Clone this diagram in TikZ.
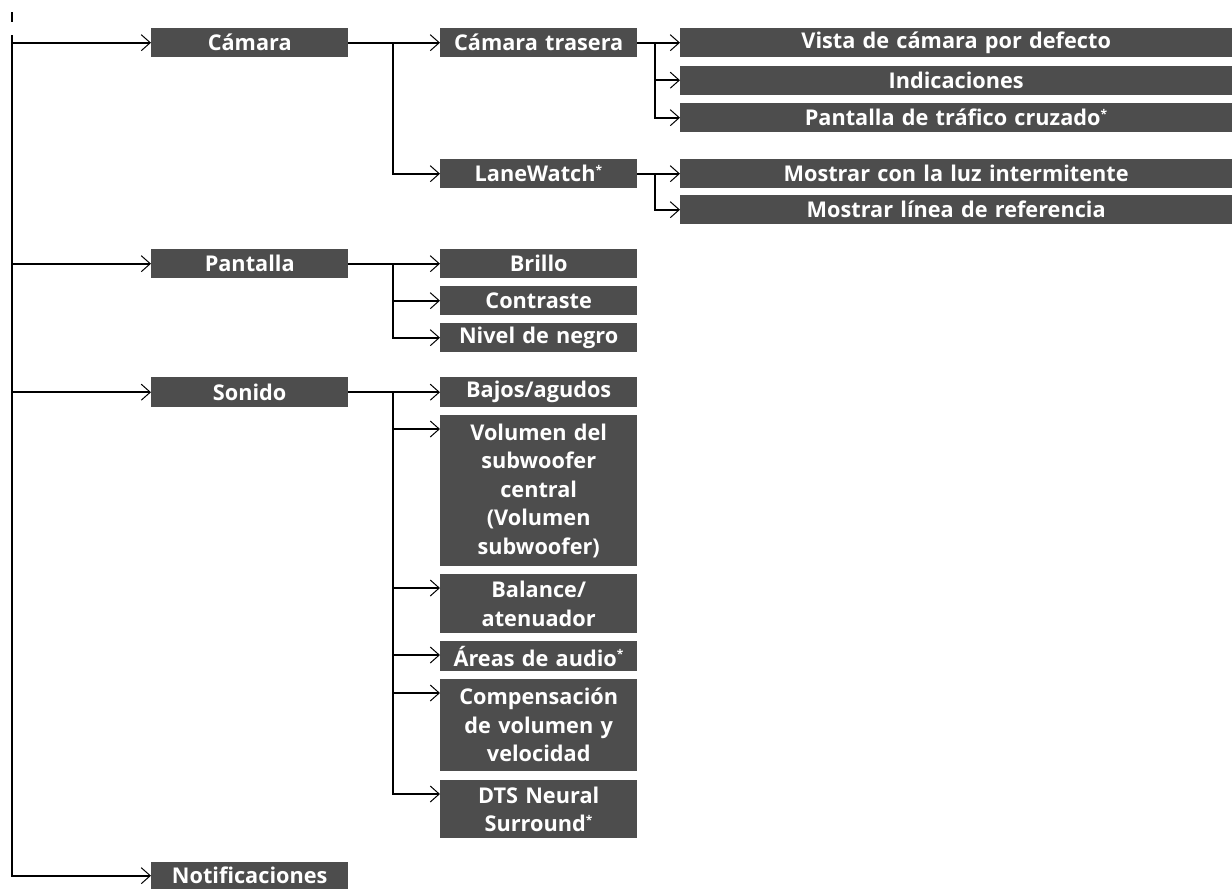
\documentclass[tikz,border=0pt]{standalone}
\usepackage{fontspec}
\setmainfont{Open Sans}
\usetikzlibrary{arrows.meta,calc}
\definecolor{cajagris}{RGB}{77,77,77}
\newcommand{\nota}{\textsuperscript{\fontsize{12}{12}\selectfont *}}
\begin{document}
\begin{tikzpicture}[x=1pt, y=-1pt,
    caja/.style={fill=cajagris, text=white, font=\fontsize{21.7}{28.5}\selectfont\bfseries,
      inner sep=0pt, anchor=north west, align=center, minimum height=29pt},
    c1/.style={caja, text width=197pt},
    c2/.style={caja, text width=197pt},
    c3/.style={caja, text width=552pt},
    link/.style={line width=2pt, -{Straight Barb[length=9pt,width=16pt,line width=1pt]}}]
    \useasboundingbox (0,0) rectangle (1232,889);
    % Nivel 1
    \node[c1] (camara) at (151,28) {Cámara};
    \node[c1] (pantalla) at (151,249) {Pantalla};
    \node[c1, minimum height=30pt] (sonido) at (151,377) {Sonido};
    \node[c1, minimum height=27pt] (notif) at (151,862) {Notificaciones};
    % Nivel 2
    \node[c2] (trasera) at (440,28) {Cámara trasera};
    \node[c2] (lane) at (440,159) {LaneWatch\nota};
    \node[c2] (brillo) at (440,249) {Brillo};
    \node[c2] (contraste) at (440,286) {Contraste};
    \node[c2] (negro) at (440,323) {Nivel de negro};
    \node[c2, minimum height=30pt] (bajos) at (440,377) {Bajos/agudos};
    \node[c2, minimum height=151pt] (volumen) at (440,415) {Volumen del\\subwoofer\\central\\(Volumen\\subwoofer)};
    \node[c2, minimum height=59pt] (balance) at (440,574) {Balance/\\atenuador};
    \node[c2, minimum height=30pt] (areas) at (440,641) {Áreas de audio\nota};
    \node[c2, minimum height=92pt] (comp) at (440,679) {Compensación\\de volumen y\\velocidad};
    \node[c2, minimum height=58pt] (dts) at (440,780) {DTS Neural\\Surround\nota};
    % Nivel 3
    \node[c3] (vista) at (680,28) {Vista de cámara por defecto};
    \node[c3] (indic) at (680,65.5) {Indicaciones};
    \node[c3] (cruzado) at (680,103) {Pantalla de tráfico cruzado\nota};
    \node[c3] (intermit) at (680,159) {Mostrar con la luz intermitente};
    \node[c3] (linea) at (680,195) {Mostrar línea de referencia};
    % Raiz
    \coordinate (raiz) at (12,35);
    \draw[line width=2pt] (12,12) -- (12,22);
    \foreach \n in {camara,pantalla,sonido,notif}
        \draw[link] (raiz) |- (\n.west);
    % Camara
    \draw[link] (camara.east) -- (trasera.west);
    \draw[link] ($(camara.east)+(45,0)$) |- (lane.west);
    \draw[link] (trasera.east) -- (vista.west);
    \foreach \n in {indic,cruzado}
        \draw[link] ($(trasera.east)+(18,0)$) |- (\n.west);
    \draw[link] (lane.east) -- (intermit.west);
    \draw[link] ($(lane.east)+(18,0)$) |- (linea.west);
    % Pantalla
    \draw[link] (pantalla.east) -- (brillo.west);
    \foreach \n in {contraste,negro}
        \draw[link] ($(pantalla.east)+(45,0)$) |- (\n.west);
    % Sonido
    \draw[link] (sonido.east) -- (bajos.west);
    \foreach \n in {volumen,balance,areas,comp,dts}
        \draw[link] ($(sonido.east)+(45,0)$) |- ($(\n.north west)+(0,14)$);
\end{tikzpicture}
\end{document}
